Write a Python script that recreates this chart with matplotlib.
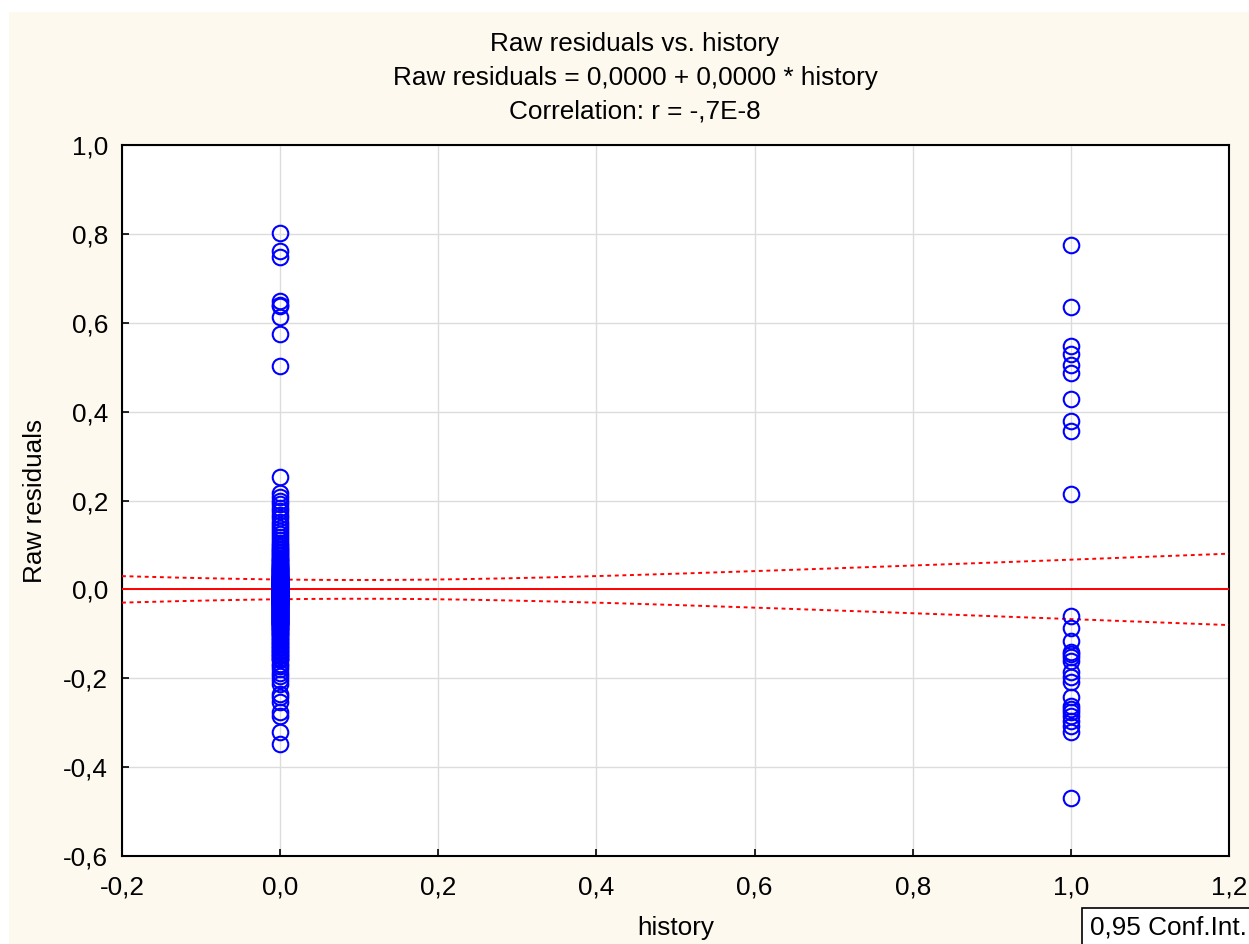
import numpy as np
import matplotlib
matplotlib.use("Agg")
import matplotlib.pyplot as plt
from matplotlib.patches import Rectangle
from matplotlib.ticker import FuncFormatter

plt.rcParams["font.family"] = ["Liberation Sans", "DejaVu Sans"]

# Residuals for history = 0
resid_h0 = [
    # isolated high residuals
    0.801, 0.761, 0.749, 0.648, 0.641, 0.637, 0.612, 0.574, 0.502,
    # upper part of the column
    0.252, 0.218, 0.208, 0.200, 0.192, 0.184, 0.176, 0.168, 0.160, 0.152,
    0.145, 0.138, 0.131, 0.124, 0.117, 0.110, 0.104,
    0.099, 0.095, 0.091, 0.088, 0.084, 0.081, 0.077, 0.074, 0.071, 0.068,
    0.066, 0.063, 0.061, 0.058, 0.056,
    0.054, 0.052, 0.051, 0.049, 0.048, 0.046, 0.045, 0.043, 0.042, 0.041,
    0.039, 0.038, 0.037, 0.035, 0.034, 0.033, 0.032, 0.031, 0.029, 0.028,
    0.027, 0.026, 0.025, 0.024, 0.023, 0.022, 0.021, 0.020, 0.019, 0.018,
    # dense centre
    0.017, 0.016, 0.015, 0.014, 0.013, 0.012, 0.011, 0.010, 0.009, 0.008,
    0.007, 0.006, 0.005, 0.004, 0.003, 0.002, 0.001, 0.000, -0.001, -0.002,
    -0.003, -0.004, -0.005, -0.006, -0.007, -0.008, -0.009, -0.010, -0.011, -0.012,
    -0.013, -0.014, -0.015, -0.016, -0.017, -0.018, -0.019, -0.020, -0.021, -0.022,
    0.0165, 0.0145, 0.0125, 0.0105, 0.0085, 0.0065, 0.0045, 0.0025, 0.0005, -0.0015,
    -0.0035, -0.0055, -0.0075, -0.0095, -0.0115, -0.0135, -0.0155, -0.0175, -0.0195, -0.0215,
    -0.0235, -0.0255, -0.0275, -0.0295, -0.0315, 0.0195, 0.0215, 0.0235, 0.0255, 0.0275,
    0.0012, -0.0028, -0.0068, -0.0108, -0.0148, -0.0188, -0.0228, -0.0268, -0.0308, -0.0348,
    0.0032, 0.0072, 0.0112, 0.0152, -0.0048, -0.0088, -0.0128, -0.0168, -0.0208, -0.0248,
    # lower part of the column
    -0.023, -0.024, -0.025, -0.026, -0.027, -0.028, -0.029, -0.030, -0.031, -0.032,
    -0.033, -0.034, -0.035, -0.036, -0.037, -0.038, -0.039, -0.040, -0.041, -0.042,
    -0.043, -0.044, -0.045, -0.046, -0.047, -0.048, -0.049, -0.050, -0.051, -0.052,
    -0.053, -0.054, -0.055, -0.056, -0.057, -0.058, -0.059, -0.060,
    -0.061, -0.062, -0.063, -0.064, -0.065, -0.066, -0.067, -0.068, -0.069, -0.070,
    -0.071, -0.072, -0.073, -0.074, -0.075, -0.076, -0.077, -0.078, -0.079, -0.080,
    -0.082, -0.084, -0.086, -0.088, -0.090, -0.092, -0.094, -0.096, -0.098, -0.100,
    -0.103, -0.106, -0.109, -0.112, -0.115, -0.118, -0.121, -0.124, -0.127, -0.130,
    -0.133, -0.136, -0.139, -0.142, -0.145, -0.148, -0.151, -0.154, -0.157, -0.160,
    # lower tail
    -0.167, -0.173, -0.180, -0.188, -0.196, -0.205, -0.214, -0.236, -0.243, -0.254,
    -0.275, -0.286, -0.322, -0.349,
]

# Residuals for history = 1
resid_h1 = [
    0.776, 0.635, 0.547, 0.529, 0.506, 0.488, 0.428, 0.378, 0.356, 0.214,
    -0.061, -0.088, -0.117, -0.140, -0.146, -0.153, -0.162, -0.187, -0.198, -0.209,
    -0.243, -0.263, -0.270, -0.277, -0.286, -0.297, -0.308, -0.320, -0.470,
]

# Fitted regression (as stated in the heading) and CI level
intercept = 0.0
slope = 0.0
t_crit = 1.968  # two-sided 95 % t quantile, df ~ 290

x_ticks = [-0.2, 0.0, 0.2, 0.4, 0.6, 0.8, 1.0, 1.2]
y_ticks = [-0.6, -0.4, -0.2, 0.0, 0.2, 0.4, 0.6, 0.8, 1.0]

title_lines = ["Raw residuals vs. history",
               "Raw residuals = 0,0000 + 0,0000 * history",
               "Correlation: r = -,7E-8"]

FS = 18.8
W, H = 1249, 944
fig = plt.figure(figsize=(W / 100, H / 100), dpi=100)
fig.patch.set_facecolor("white")

# cream panel behind the plot
fig.patches.append(Rectangle((9 / W, 0), 1 - 9 / W, 1 - 12 / H,
                             transform=fig.transFigure, facecolor="#FDF9EF",
                             edgecolor="none", zorder=-10))

ax = fig.add_axes([122 / W, 1 - 856 / H, 1107 / W, 711 / H])
ax.set_facecolor("white")
ax.set_zorder(1)

x = np.concatenate([np.zeros(len(resid_h0)), np.ones(len(resid_h1))])
y = np.concatenate([resid_h0, resid_h1])

# confidence band of the fitted line
n = len(x)
xbar = x.mean()
sxx = np.sum((x - xbar) ** 2)
fit = intercept + slope * x
s = np.sqrt(np.sum((y - fit) ** 2) / (n - 2))
xs = np.linspace(x_ticks[0], x_ticks[-1], 300)
line = intercept + slope * xs
half = t_crit * s * np.sqrt(1 / n + (xs - xbar) ** 2 / sxx)

ax.plot(xs, line, color="#FF0000", lw=1.4, zorder=3)
ax.plot(xs, line + half, color="#FF0000", lw=1.4, ls=(0, (2.0, 1.9)), zorder=3)
ax.plot(xs, line - half, color="#FF0000", lw=1.4, ls=(0, (2.0, 1.9)), zorder=3)

ax.plot(x, y, ls="none", marker="o", ms=11.2, mfc="none", mec="#0000FF",
        mew=1.5, zorder=4, clip_on=False)

ax.set_xlim(x_ticks[0], x_ticks[-1])
ax.set_ylim(y_ticks[0], y_ticks[-1])
ax.set_xticks(x_ticks)
ax.set_yticks(y_ticks)
fmt = FuncFormatter(lambda v, p: f"{v:.1f}".replace(".", ",").replace("-0,0", "0,0"))
ax.xaxis.set_major_formatter(fmt)
ax.yaxis.set_major_formatter(fmt)
ax.grid(True, color="#DCDCDC", lw=1.0, zorder=0)
ax.set_axisbelow(True)
ax.tick_params(direction="in", length=5, width=1.2, labelsize=FS, pad=10,
               colors="black")
ax.tick_params(axis="x", pad=14)
for sp in ax.spines.values():
    sp.set_linewidth(1.5)
    sp.set_color("black")

ax.set_xlabel("history", fontsize=FS, va="center")
ax.xaxis.set_label_coords(0.5, (856 - 928) / 711)
ax.set_ylabel("Raw residuals", fontsize=FS, va="center")
ax.yaxis.set_label_coords((35 - 122) / 1107, 0.5)

for i, t in enumerate(title_lines):
    fig.text(635 / W, 1 - (44 + 34 * i) / H, t, ha="center", va="center",
             fontsize=FS)

# CI legend box in the bottom-right corner
fig.patches.append(Rectangle((1082 / W, -0.01), 0.2, 0.01 + (944 - 908) / H,
                             transform=fig.transFigure, facecolor="white",
                             edgecolor="black", lw=1.2, zorder=5))
fig.text(1090 / W, 1 - 928 / H, "0,95 Conf.Int.", ha="left", va="center",
         fontsize=FS, zorder=6)

fig.savefig("out.png", dpi=100)
